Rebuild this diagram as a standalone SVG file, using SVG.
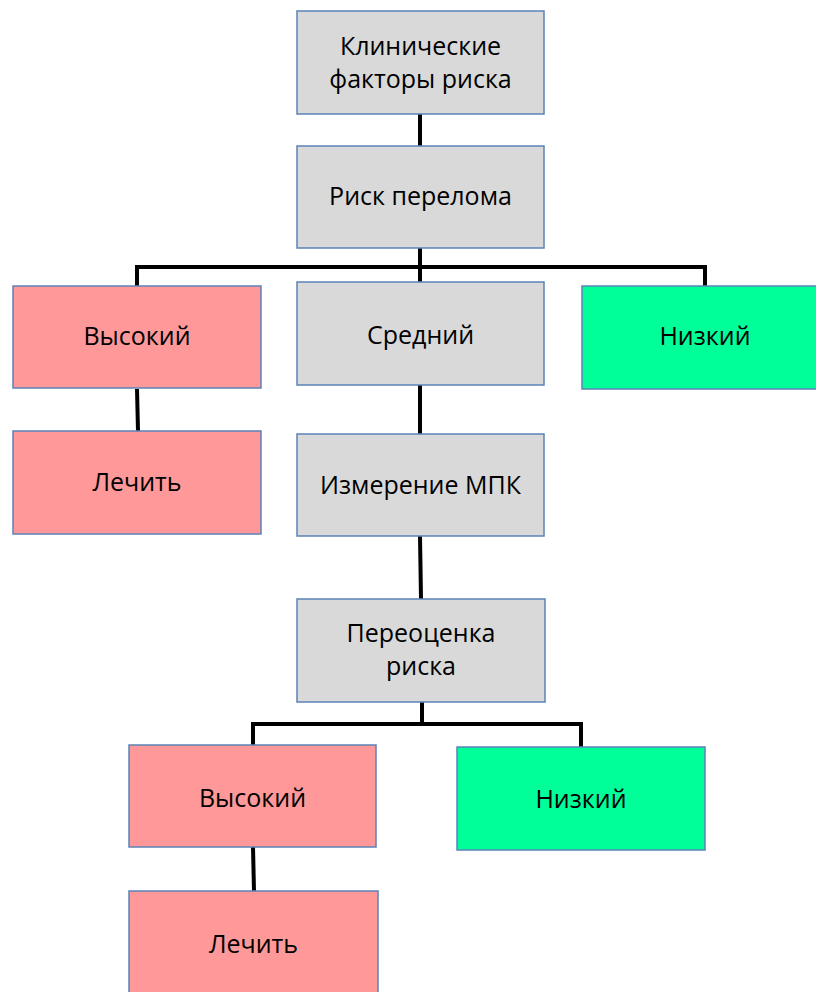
<svg xmlns="http://www.w3.org/2000/svg" width="816" height="992" viewBox="0 0 816 992">
<style>
.box{stroke:#5b82b8;stroke-width:1.5}
.gray{fill:#d9d9d9}
.red{fill:#ff9999}
.green{fill:#00ff99}
.t{font-family:"Open Sans","Liberation Sans",sans-serif;font-size:25px;fill:#000;text-anchor:middle}
.c{stroke:#000;stroke-width:4;fill:none}
</style>
<rect width="816" height="992" fill="#fff"/>
<g id="connectors">
<line class="c" x1="420" y1="114" x2="420" y2="146"/>
<line class="c" x1="420" y1="248" x2="420" y2="282"/>
<polyline class="c" points="137,286 137,267 705,267 705,286"/>
<line class="c" x1="137" y1="389" x2="138" y2="431"/>
<line class="c" x1="420" y1="385" x2="420" y2="434"/>
<line class="c" x1="420" y1="536" x2="421" y2="599"/>
<line class="c" x1="422" y1="702" x2="422" y2="724"/>
<polyline class="c" points="253,745 253,724 581,724 581,747"/>
<line class="c" x1="253" y1="847" x2="254" y2="891"/>
</g>
<g id="n1"><rect class="box gray" x="297" y="11" width="247" height="103"/><text class="t" x="420.5" y="55">Клинические</text><text class="t" x="420.5" y="88">факторы риска</text></g>
<g id="n2"><rect class="box gray" x="297" y="146" width="247" height="102"/><text class="t" x="420.5" y="205">Риск перелома</text></g>
<g id="n3"><rect class="box red" x="13" y="286" width="248" height="102"/><text class="t" x="137" y="345">Высокий</text></g>
<g id="n4"><rect class="box gray" x="297" y="282" width="247" height="103"/><text class="t" x="420.5" y="344">Средний</text></g>
<g id="n5"><rect class="box green" x="582" y="286" width="236" height="103"/><text class="t" x="705" y="345">Низкий</text></g>
<g id="n6"><rect class="box red" x="13" y="431" width="248" height="103"/><text class="t" x="137" y="491">Лечить</text></g>
<g id="n7"><rect class="box gray" x="297" y="434" width="247" height="102"/><text class="t" x="420.5" y="494">Измерение МПК</text></g>
<g id="n8"><rect class="box gray" x="297" y="599" width="248" height="103"/><text class="t" x="421" y="642">Переоценка</text><text class="t" x="421" y="675">риска</text></g>
<g id="n9"><rect class="box red" x="129" y="745" width="247" height="102"/><text class="t" x="252.5" y="807">Высокий</text></g>
<g id="n10"><rect class="box green" x="457" y="747" width="248" height="103"/><text class="t" x="581" y="808">Низкий</text></g>
<g id="n11"><rect class="box red" x="129" y="891" width="249" height="110"/><text class="t" x="253.5" y="953">Лечить</text></g>
</svg>
